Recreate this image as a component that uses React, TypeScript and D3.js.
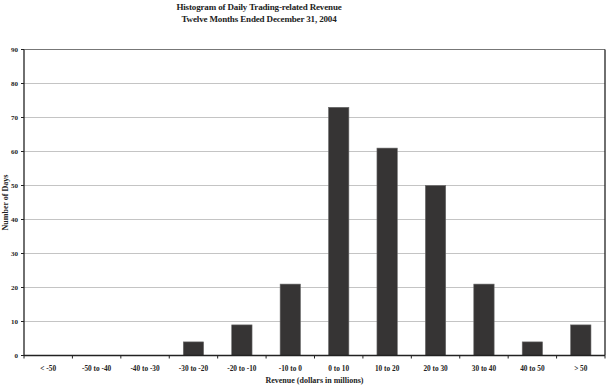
import * as d3 from "d3"

const categories = [
  "< -50",
  "-50 to -40",
  "-40 to -30",
  "-30 to -20",
  "-20 to -10",
  "-10 to 0",
  "0 to 10",
  "10 to 20",
  "20 to 30",
  "30 to 40",
  "40 to 50",
  "> 50",
]
const days = [0, 0, 0, 4, 9, 21, 73, 61, 50, 21, 4, 9]
const yTicks = [0, 10, 20, 30, 40, 50, 60, 70, 80, 90]

const W = 606
const H = 385
const m = { top: 49.5, right: 1, bottom: 29.5, left: 24 }
const font = "'Liberation Serif', 'Times New Roman', serif"

export default function App() {
  const x = d3
    .scaleBand<string>()
    .domain(categories)
    .range([m.left, W - m.right])
    .paddingInner(0.58)
    .paddingOuter(0.29)
  const step = x.step()
  const y = d3.scaleLinear().domain([0, 90]).range([H - m.bottom, m.top])
  const x0 = m.left
  const x1 = W - m.right
  const bottom = y(0)

  return (
    <svg
      width={W}
      height={H}
      style={{ position: "absolute", left: 0, top: 0, background: "#fff" }}
      fontFamily={font}
      fontWeight="bold"
    >
      <g textAnchor="middle" fontSize={9} fill="#222" letterSpacing={-0.15}>
        <text x={259} y={9.5}>
          Histogram of Daily Trading-related Revenue
        </text>
        <text x={259} y={21.5}>
          Twelve Months Ended December 31, 2004
        </text>
      </g>

      {yTicks.slice(1, -1).map((t) => (
        <line
          key={t}
          x1={x0}
          x2={x1}
          y1={y(t)}
          y2={y(t)}
          stroke="#c4c4c4"
          strokeWidth={1}
        />
      ))}

      {/* plot frame */}
      <line x1={x0} x2={x1} y1={y(90)} y2={y(90)} stroke="#777" strokeWidth={1.2} />
      <line x1={x1} x2={x1} y1={y(90)} y2={bottom} stroke="#222" strokeWidth={1.3} />

      {categories.map((c, i) =>
        days[i] > 0 ? (
          <rect
            key={c}
            x={x(c)}
            y={y(days[i])}
            width={x.bandwidth()}
            height={bottom - y(days[i])}
            fill="#363434"
            stroke="#6a6a6a"
            strokeWidth={0.6}
          />
        ) : null,
      )}

      {/* y axis */}
      <line x1={x0} x2={x0} y1={y(90)} y2={bottom} stroke="#222" strokeWidth={1.3} />
      {yTicks.map((t) => (
        <g key={t}>
          <line x1={x0 - 3} x2={x0} y1={y(t)} y2={y(t)} stroke="#222" strokeWidth={1} />
          <text x={x0 - 6} y={y(t)} dy="0.33em" textAnchor="end" fontSize={7} fill="#222">
            {t}
          </text>
        </g>
      ))}

      {/* x axis */}
      <line x1={x0} x2={x1} y1={bottom} y2={bottom} stroke="#222" strokeWidth={1.3} />
      {d3.range(categories.length + 1).map((i) => (
        <line
          key={i}
          x1={x0 + i * step}
          x2={x0 + i * step}
          y1={bottom}
          y2={bottom + 3}
          stroke="#222"
          strokeWidth={1}
        />
      ))}
      {categories.map((c) => (
        <text
          key={c}
          x={(x(c) ?? 0) + x.bandwidth() / 2}
          y={bottom + 15}
          textAnchor="middle"
          fontSize={7.3}
          fill="#222"
        >
          {c}
        </text>
      ))}

      <text
        x={(x0 + x1) / 2}
        y={H - 2.5}
        textAnchor="middle"
        fontSize={8}
        fill="#222"
      >
        Revenue (dollars in millions)
      </text>
      <text
        transform={`translate(8, ${(y(90) + bottom) / 2}) rotate(-90)`}
        textAnchor="middle"
        fontSize={8}
        fill="#222"
      >
        Number of Days
      </text>
    </svg>
  )
}
